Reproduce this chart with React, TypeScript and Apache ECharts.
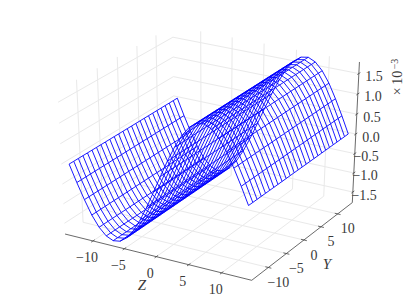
import React, { useEffect, useRef } from "react";
import * as echarts from "echarts";

const zSamples = [-13.6,-12.51,-11.42,-10.34,-9.25,-8.16,-7.07,-5.98,-4.9,-3.81,-2.72,-1.63,-0.54,0.54,1.63,2.72,3.81,4.9,5.98,7.07,8.16,9.25,10.34,11.42,12.51,13.6];
const ySamples = [-14,-12.88,-11.76,-10.64,-9.52,-8.4,-7.28,-6.16,-5.04,-3.92,-2.8,-1.68,-0.56,0.56,1.68,2.8,3.92,5.04,6.16,7.28,8.4,9.52,10.64,11.76,12.88,14];
// surface height (x 10^-3) read at each zSamples position; it does not vary with Y
const heightProfile = [0,-0.42,-0.81,-1.16,-1.43,-1.61,-1.69,-1.66,-1.53,-1.3,-0.99,-0.62,-0.21,0.21,0.62,0.99,1.3,1.53,1.66,1.69,1.61,1.43,1.16,0.81,0.42,0];
const zTicks = [-10,-5,0,5,10];
const yTicks = [-10,-5,0,5,10];
const vTicks = [-1.5,-1,-0.5,0,0.5,1,1.5];
const vTickLabels = ["−1.5","−1.0","−0.5","0.0","0.5","1.0","1.5"];
const zLim = 14.5, yLim = 14.5, vLim = 1.78;

// matplotlib-style camera: azim -60, elev 30, dist 10
function project(z: number, y: number, v: number): [number, number] {
  const dx = z / (2 * zLim), dy = y / (2 * yLim), dz = v / (2 * vLim);
  const xv = 0.866 * dx + 0.5 * dy;
  const yv = -0.25 * dx + 0.433 * dy + 0.866 * dz;
  const w = 10 - (0.433 * dx - 0.75 * dy + 0.5 * dz);
  return [210.9 + 2155 * xv / w, 148.8 - 1640 * yv / w];
}

function lineSeries(pts: [number, number][], color: string, width: number) {
  return {
    type: "line", data: pts, showSymbol: false, silent: true, clip: false,
    lineStyle: { color, width, cap: "butt" }, z: 2,
  };
}

const FONT = "'Liberation Serif', serif";
function label(text: string, x: number, y: number, extra: any = {}) {
  return {
    type: "text", x, y, silent: true,
    style: { text, fill: "#3a3a3a", font: `14px ${FONT}`, align: "center", verticalAlign: "middle", ...extra },
  };
}

export default function App() {
  const ref = useRef<HTMLDivElement>(null);
  useEffect(() => {
    document.body.style.margin = "0";
    const chart = echarts.init(ref.current!, undefined, { renderer: "svg" });
    const GRID = "#e9e9e9", AXIS = "#444";
    const series: any[] = [];
    // panes' grid lines
    for (const t of zTicks) {
      series.push(lineSeries([project(t, -yLim, -vLim), project(t, yLim, -vLim)], GRID, 1));
      series.push(lineSeries([project(t, yLim, -vLim), project(t, yLim, vLim)], GRID, 1));
    }
    for (const t of yTicks) {
      series.push(lineSeries([project(-zLim, t, -vLim), project(zLim, t, -vLim)], GRID, 1));
      series.push(lineSeries([project(-zLim, t, -vLim), project(-zLim, t, vLim)], GRID, 1));
    }
    for (const t of vTicks) {
      series.push(lineSeries([project(-zLim, -yLim, t), project(-zLim, yLim, t), project(zLim, yLim, t)], GRID, 1));
    }
    // axes
    series.push(lineSeries([project(-zLim, -yLim, -vLim), project(zLim, -yLim, -vLim), project(zLim, yLim, -vLim), project(zLim, yLim, vLim)], AXIS, 0.8));
    const graphics: any[] = [];
    for (const t of zTicks) {
      series.push(lineSeries([project(t, -yLim - 0.45, -vLim), project(t, -yLim + 0.45, -vLim)], AXIS, 0.8));
      const [px, py] = project(t, -yLim, -vLim);
      graphics.push(label(t < 0 ? `−${-t}` : `${t}`, px - 6, py + 17));
    }
    for (const t of yTicks) {
      series.push(lineSeries([project(zLim - 0.45, t, -vLim), project(zLim + 0.45, t, -vLim)], AXIS, 0.8));
      const [px, py] = project(zLim, t, -vLim);
      graphics.push(label(t < 0 ? `−${-t}` : `${t}`, px + 10, py + 15));
    }
    vTicks.forEach((t, i) => {
      series.push(lineSeries([project(zLim, yLim - 0.45, t), project(zLim, yLim + 0.45, t)], AXIS, 0.8));
      const [px, py] = project(zLim, yLim, t);
      graphics.push(label(vTickLabels[i], px + 24, py + 3, { align: "right" }));
    });
    graphics.push(label("Z", 142, 285, { font: `italic 15px ${FONT}` }));
    graphics.push(label("Y", 327, 264, { font: `italic 15px ${FONT}` }));
    graphics.push({ type: "group", x: 397, y: 83, rotation: Math.PI / 2, silent: true, children: [
      label("×\u200910", 0, 0),
      label("−3", 19, -3, { font: `10px ${FONT}` }),
    ]});
    // wireframe
    for (const y of ySamples) {
      series.push(lineSeries(zSamples.map((z, i) => project(z, y, heightProfile[i])), "#0000ff", 0.9));
    }
    zSamples.forEach((z, i) => {
      series.push(lineSeries(ySamples.map((y) => project(z, y, heightProfile[i])), "#0000ff", 0.9));
    });
    chart.setOption({
      animation: false,
      grid: { left: 0, right: 0, top: 0, bottom: 0 },
      xAxis: { type: "value", min: 0, max: 407, show: false },
      yAxis: { type: "value", min: 0, max: 307, inverse: true, show: false },
      series,
      graphic: graphics,
    });
    return () => chart.dispose();
  }, []);
  return <div ref={ref} style={{ width: 407, height: 307, display: "block", background: "#fff" }} />;
}
